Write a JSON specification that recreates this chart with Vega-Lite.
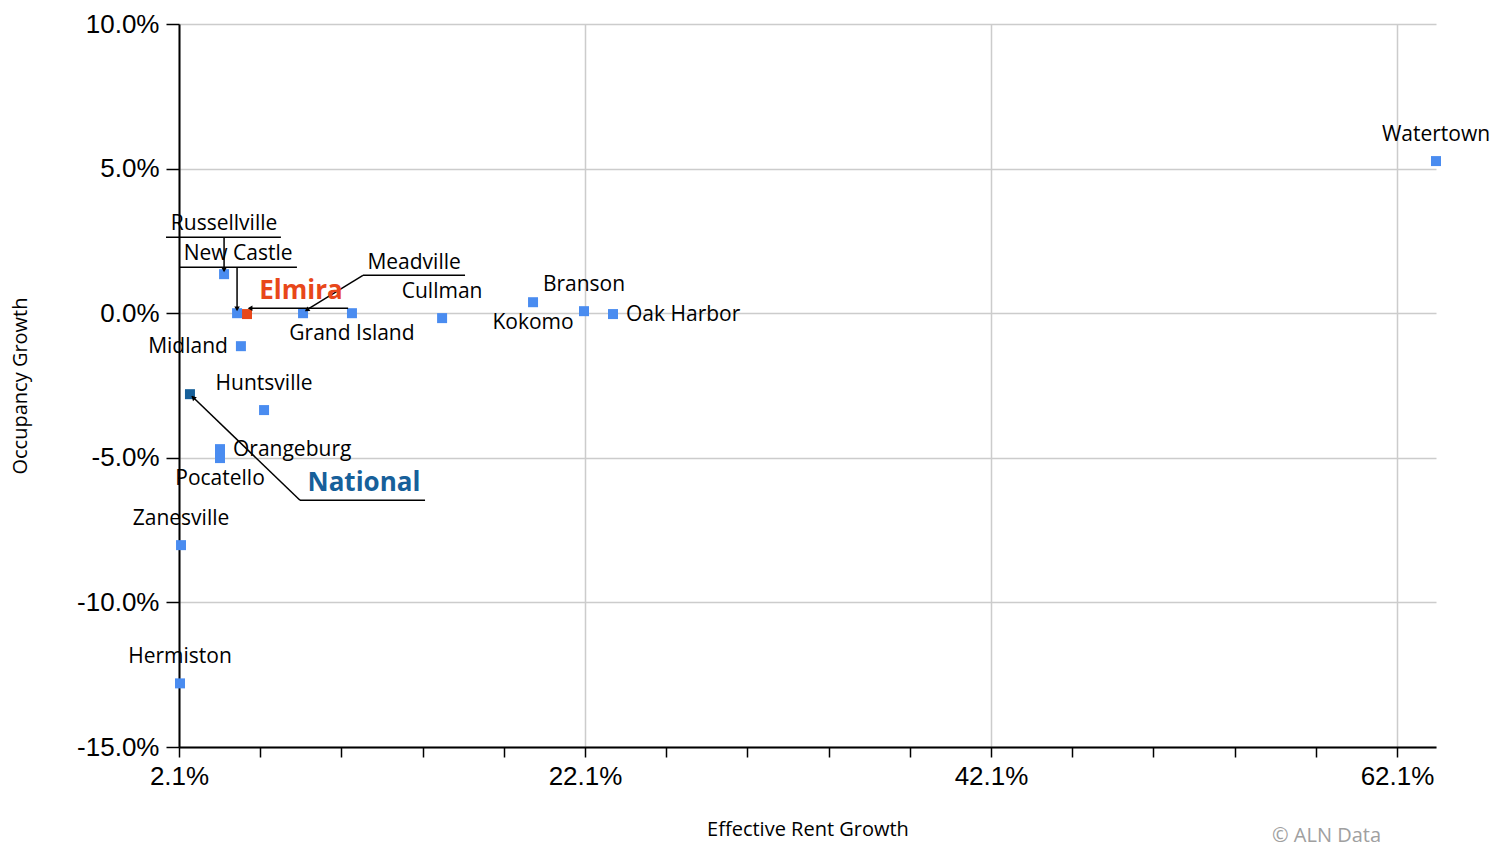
{
  "$schema": "https://vega.github.io/schema/vega-lite/v6.json",
  "width": 1257,
  "height": 723,
  "autosize": "none",
  "padding": {"left": 179, "top": 24, "right": 57, "bottom": 99},
  "background": "white",
  "config": {
    "font": "Open Sans",
    "view": {"stroke": null},
    "axis": {"labelFont": "Liberation Sans", "titleFont": "Open Sans"}
  },
  "title": {
    "text": "© ALN Data",
    "orient": "bottom",
    "anchor": "end",
    "frame": "group",
    "color": "#a0a0a0",
    "fontSize": 20,
    "fontWeight": "normal",
    "font": "Open Sans",
    "dx": -55,
    "offset": -13
  },
  "datasets": {
    "markets": [
      {"market": "Elmira", "rent": 5.45, "occ": -0.03, "type": "Elmira"},
      {"market": "Watertown", "rent": 64.02, "occ": 5.26, "type": "Market"},
      {"market": "Oak Harbor", "rent": 23.48, "occ": -0.03, "type": "Market"},
      {"market": "Branson", "rent": 22.05, "occ": 0.07, "type": "Market"},
      {"market": "Kokomo", "rent": 19.54, "occ": 0.38, "type": "Market"},
      {"market": "Cullman", "rent": 15.06, "occ": -0.17, "type": "Market"},
      {"market": "Grand Island", "rent": 10.62, "occ": 0.0, "type": "Market"},
      {"market": "Meadville", "rent": 8.21, "occ": 0.0, "type": "Market"},
      {"market": "New Castle", "rent": 4.96, "occ": 0.0, "type": "Market"},
      {"market": "Russellville", "rent": 4.32, "occ": 1.35, "type": "Market"},
      {"market": "Midland", "rent": 5.15, "occ": -1.14, "type": "Market"},
      {"market": "Huntsville", "rent": 6.29, "occ": -3.35, "type": "Market"},
      {"market": "National", "rent": 2.64, "occ": -2.8, "type": "National"},
      {"market": "Orangeburg", "rent": 4.12, "occ": -4.7, "type": "Market"},
      {"market": "Pocatello", "rent": 4.12, "occ": -5.01, "type": "Market"},
      {"market": "Zanesville", "rent": 2.2, "occ": -8.02, "type": "Market"},
      {"market": "Hermiston", "rent": 2.15, "occ": -12.8, "type": "Market"}
    ],
    "callouts": [
      {"label": "Russellville", "rent": 4.32, "occ": 3.08},
      {"label": "New Castle", "rent": 5.01, "occ": 2.04},
      {"label": "Meadville", "rent": 13.68, "occ": 1.73},
      {"label": "Elmira", "rent": 8.11, "occ": 0.76},
      {"label": "National", "rent": 11.21, "occ": -5.88}
    ],
    "leaders": [
      {"x1": 1.46, "y1": 2.63, "x2": 7.12, "y2": 2.63},
      {"x1": 4.32, "y1": 2.63, "x2": 4.32, "y2": 1.52},
      {"x1": 2.1, "y1": 1.59, "x2": 7.91, "y2": 1.59},
      {"x1": 4.96, "y1": 1.59, "x2": 4.96, "y2": 0.17},
      {"x1": 10.43, "y1": 0.17, "x2": 5.6, "y2": 0.17},
      {"x1": 11.16, "y1": 1.31, "x2": 16.19, "y2": 1.31},
      {"x1": 11.16, "y1": 1.31, "x2": 8.35, "y2": 0.1},
      {"x1": 8.06, "y1": -6.47, "x2": 14.22, "y2": -6.47},
      {"x1": 8.06, "y1": -6.47, "x2": 2.74, "y2": -2.87}
    ],
    "tips": [
      {"name": "Russellville", "rent": 4.32, "occ": 1.5},
      {"name": "New Castle", "rent": 4.96, "occ": 0.15},
      {"name": "Elmira", "rent": 5.6, "occ": 0.17},
      {"name": "Meadville", "rent": 8.4, "occ": 0.11},
      {"name": "National", "rent": 2.8, "occ": -2.92}
    ]
  },
  "layer": [
    {
      "data": {"name": "markets"},
      "mark": {"type": "point", "shape": "square", "filled": true, "size": 100, "opacity": 1},
      "encoding": {
        "x": {
          "field": "rent",
          "type": "quantitative",
          "scale": {"domain": [2.1, 64.02], "nice": false, "zero": false},
          "axis": {
            "values": [2.1, 6.1, 10.1, 14.1, 18.1, 22.1, 26.1, 30.1, 34.1, 38.1, 42.1, 46.1, 50.1, 54.1, 58.1, 62.1],
            "labelExpr": "round((datum.value - 2.1) * 10) % 200 == 0 ? format(datum.value, '.1f') + '%' : ''",
            "grid": true,
            "gridColor": "#cccccc",
            "gridWidth": 1.5,
            "gridOpacity": {"condition": {"test": "round((datum.value - 2.1) * 10) % 200 == 0", "value": 1}, "value": 0},
            "domainColor": "#000000",
            "domainWidth": 2,
            "tickColor": "#000000",
            "tickWidth": 1.5,
            "tickSize": 10,
            "labelFontSize": 26,
            "labelColor": "#000000",
            "labelPadding": 6,
            "labelFlush": false,
            "labelOverlap": false,
            "title": "Effective Rent Growth",
            "titleFontSize": 20,
            "titleFontWeight": "normal",
            "titleColor": "#000000",
            "titlePadding": 30
          }
        },
        "y": {
          "field": "occ",
          "type": "quantitative",
          "scale": {"domain": [-15, 10], "nice": false, "zero": false},
          "axis": {
            "values": [-15, -10, -5, 0, 5, 10],
            "labelExpr": "(datum.value < 0 ? '-' : '') + format(abs(datum.value), '.1f') + '%'",
            "grid": true,
            "gridColor": "#cccccc",
            "gridWidth": 1.5,
            "domainColor": "#000000",
            "domainWidth": 2,
            "tickColor": "#000000",
            "tickWidth": 1.5,
            "tickSize": 13,
            "labelFontSize": 26,
            "labelColor": "#000000",
            "labelPadding": 7,
            "labelFlush": false,
            "labelOverlap": false,
            "title": "Occupancy Growth",
            "titleFontSize": 20,
            "titleFontWeight": "normal",
            "titleColor": "#000000",
            "titlePadding": 46
          }
        },
        "color": {
          "field": "type",
          "type": "nominal",
          "scale": {"domain": ["Market", "Elmira", "National"], "range": ["#4a8cf0", "#e8471a", "#17609a"]},
          "legend": null
        }
      }
    },
    {
      "data": {"name": "leaders"},
      "mark": {"type": "rule", "color": "#000000", "strokeWidth": 1.5},
      "encoding": {
        "x": {"field": "x1", "type": "quantitative"},
        "y": {"field": "y1", "type": "quantitative"},
        "x2": {"field": "x2"},
        "y2": {"field": "y2"}
      }
    },
    {
      "data": {"name": "tips"},
      "transform": [{"filter": {"field": "name", "oneOf": ["Russellville", "New Castle"]}}],
      "mark": {"type": "point", "shape": "triangle-down", "filled": true, "size": 30, "color": "#000000", "opacity": 1},
      "encoding": {
        "x": {"field": "rent", "type": "quantitative"},
        "y": {"field": "occ", "type": "quantitative"}
      }
    },
    {
      "data": {"name": "tips"},
      "transform": [{"filter": {"field": "name", "equal": "Elmira"}}],
      "mark": {"type": "point", "shape": "triangle-left", "filled": true, "size": 30, "color": "#000000", "opacity": 1},
      "encoding": {
        "x": {"field": "rent", "type": "quantitative"},
        "y": {"field": "occ", "type": "quantitative"}
      }
    },
    {
      "data": {"name": "tips"},
      "transform": [{"filter": {"field": "name", "equal": "Meadville"}}],
      "mark": {"type": "point", "shape": "triangle-up", "angle": 238, "filled": true, "size": 30, "color": "#000000", "opacity": 1},
      "encoding": {
        "x": {"field": "rent", "type": "quantitative"},
        "y": {"field": "occ", "type": "quantitative"}
      }
    },
    {
      "data": {"name": "tips"},
      "transform": [{"filter": {"field": "name", "equal": "National"}}],
      "mark": {"type": "point", "shape": "triangle-up", "angle": 314, "filled": true, "size": 30, "color": "#000000", "opacity": 1},
      "encoding": {
        "x": {"field": "rent", "type": "quantitative"},
        "y": {"field": "occ", "type": "quantitative"}
      }
    },
    {
      "data": {"name": "markets"},
      "transform": [{"filter": {"field": "market", "oneOf": ["Watertown", "Huntsville", "Zanesville", "Hermiston", "Branson", "Cullman"]}}],
      "mark": {"type": "text", "fontSize": 21, "color": "#000000", "align": "center", "baseline": "middle", "dy": -26},
      "encoding": {
        "x": {"field": "rent", "type": "quantitative"},
        "y": {"field": "occ", "type": "quantitative"},
        "text": {"field": "market"}
      }
    },
    {
      "data": {"name": "markets"},
      "transform": [{"filter": {"field": "market", "oneOf": ["Kokomo", "Grand Island", "Pocatello"]}}],
      "mark": {"type": "text", "fontSize": 21, "color": "#000000", "align": "center", "baseline": "middle", "dy": 21},
      "encoding": {
        "x": {"field": "rent", "type": "quantitative"},
        "y": {"field": "occ", "type": "quantitative"},
        "text": {"field": "market"}
      }
    },
    {
      "data": {"name": "markets"},
      "transform": [{"filter": {"field": "market", "oneOf": ["Oak Harbor", "Orangeburg"]}}],
      "mark": {"type": "text", "fontSize": 21, "color": "#000000", "align": "left", "baseline": "middle", "dx": 13, "dy": 1},
      "encoding": {
        "x": {"field": "rent", "type": "quantitative"},
        "y": {"field": "occ", "type": "quantitative"},
        "text": {"field": "market"}
      }
    },
    {
      "data": {"name": "markets"},
      "transform": [{"filter": {"field": "market", "equal": "Midland"}}],
      "mark": {"type": "text", "fontSize": 21, "color": "#000000", "align": "right", "baseline": "middle", "dx": -13, "dy": 1},
      "encoding": {
        "x": {"field": "rent", "type": "quantitative"},
        "y": {"field": "occ", "type": "quantitative"},
        "text": {"field": "market"}
      }
    },
    {
      "data": {"name": "callouts"},
      "transform": [{"filter": {"field": "label", "oneOf": ["Russellville", "New Castle", "Meadville"]}}],
      "mark": {"type": "text", "fontSize": 21, "color": "#000000", "align": "center", "baseline": "middle"},
      "encoding": {
        "x": {"field": "rent", "type": "quantitative"},
        "y": {"field": "occ", "type": "quantitative"},
        "text": {"field": "label"}
      }
    },
    {
      "data": {"name": "callouts"},
      "transform": [{"filter": {"field": "label", "equal": "Elmira"}}],
      "mark": {"type": "text", "fontSize": 26, "fontWeight": "bold", "color": "#e8471a", "align": "center", "baseline": "middle"},
      "encoding": {
        "x": {"field": "rent", "type": "quantitative"},
        "y": {"field": "occ", "type": "quantitative"},
        "text": {"field": "label"}
      }
    },
    {
      "data": {"name": "callouts"},
      "transform": [{"filter": {"field": "label", "equal": "National"}}],
      "mark": {"type": "text", "fontSize": 26, "fontWeight": "bold", "color": "#17609a", "align": "center", "baseline": "middle"},
      "encoding": {
        "x": {"field": "rent", "type": "quantitative"},
        "y": {"field": "occ", "type": "quantitative"},
        "text": {"field": "label"}
      }
    }
  ]
}
